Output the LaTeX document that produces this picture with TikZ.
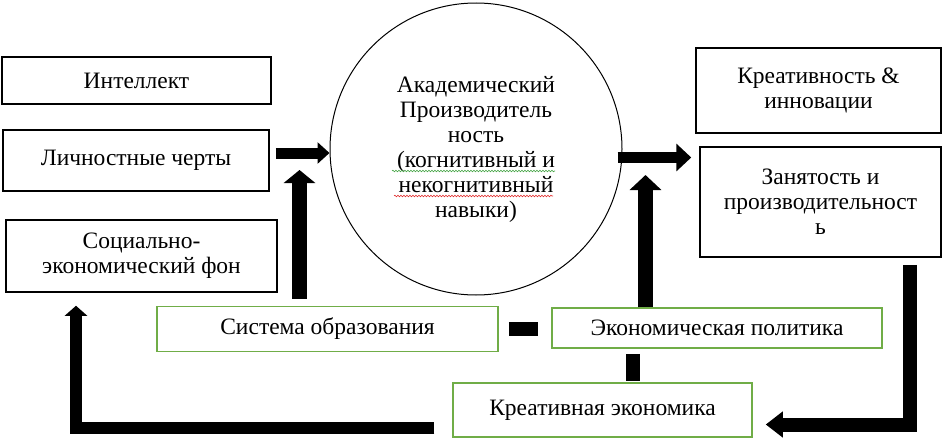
\documentclass[tikz,border=0pt]{standalone}
\usepackage{fontspec}
\setmainfont{Liberation Serif}
\usetikzlibrary{arrows.meta,decorations.pathmorphing}
\definecolor{edgegreen}{RGB}{112,173,71}
\definecolor{spellred}{RGB}{225,45,45}
\definecolor{spellgreen}{RGB}{70,165,70}
\tikzset{box/.style={draw=black,line width=1.5pt,inner sep=0pt,align=center},
 greenbox/.style={draw=edgegreen,line width=1.5pt,inner sep=0pt,align=center},
 fatarrow/.style n args={3}{line width=#1,line join=miter,-{Triangle[width=#2,length=#3]}},
 fatline/.style={line width=#1,line join=miter},
 spell/.style={line width=.6pt,decorate,decoration={snake,amplitude=.8pt,segment length=3pt}},
 every node/.style={font=\fontsize{23.5}{25}\selectfont}}

\begin{document}
\begin{tikzpicture}[x=1pt,y=-1pt]
\useasboundingbox (0,0) rectangle (943,439);
\node[box,minimum width=269pt,minimum height=47pt] (intel) at (136.5,80.5) {Интеллект};
\node[box,minimum width=266pt,minimum height=61pt] (pers) at (136,160.5) {Личностные черты};
\node[box,minimum width=271pt,minimum height=72pt] (socio) at (141.5,256) {Социально-\\экономический фон};
\node[circle,draw,line width=1pt,minimum size=292pt,inner sep=0pt,align=center] (acad) at (476,149) {Академический\\Производитель\\ность\\(когнитивный и\\некогнитивный\\навыки)};
\node[box,minimum width=245pt,minimum height=85pt] (creat) at (818.5,90.5) {Креативность \&\\инновации};
\node[box,minimum width=241pt,minimum height=110pt] (employ) at (820.5,202) {Занятость и\\производительност\\ь};
\node[greenbox,minimum width=341pt,minimum height=45pt] (edu) at (327.5,329) {Система образования};
\node[greenbox,minimum width=330pt,minimum height=40pt] (econ) at (717,328) {Экономическая политика};
\node[greenbox,minimum width=299pt,minimum height=54pt] (kreco) at (602.5,410) {Креативная экономика};
\coordinate (eduup) at (299.5,170);
\coordinate (econup) at (645.5,175);
\coordinate (rturn) at (909.5,424.5);
\coordinate (lturn) at (76,428);
\draw[fatarrow={11pt}{21pt}{12pt},shorten <=6pt] ([yshift=7.5pt]pers.east) -- ([yshift=7.5pt]pers.east -| acad.west);
\draw[fatarrow={15pt}{31pt}{13pt},shorten <=7pt] (edu.north -| eduup) -- (eduup);
\draw[fatarrow={15pt}{31pt}{15pt}] (econ.north -| econup) -- (econup);
\draw[fatarrow={11pt}{27pt}{15pt},shorten <=-5pt,shorten >=8pt] ([yshift=-8.5pt]acad.east) -- ([yshift=-8.5pt]acad.east -| employ.west);
\draw[fatline=14pt,shorten <=10pt,shorten >=13pt] (edu.east) -- (edu.east -| econ.west);
\draw[fatline=14pt,shorten <=5pt,shorten >=1pt] ([xshift=-84pt]econ.south) -- ([xshift=-84pt]econ.south |- kreco.north);
\draw[fatarrow={14pt}{25pt}{17pt},shorten <=7pt,shorten >=13pt] (employ.south -| rturn) |- (kreco.east |- rturn);
\draw[fatarrow={12pt}{22pt}{10pt},shorten <=18pt,shorten >=13pt] (kreco.west |- lturn) -| (socio.south -| lturn);
\draw[spell,spellgreen] (392,171) -- (555,171);
\draw[spell,spellred] (394,196) -- (553,196);
\end{tikzpicture}
\end{document}
